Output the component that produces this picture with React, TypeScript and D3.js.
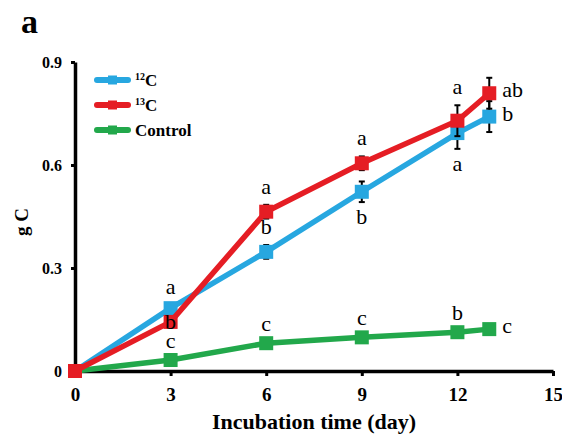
import React, { useEffect, useRef } from "react";
import * as d3 from "d3";

const days = [0, 3, 6, 9, 12, 13];
const c12 = [0, 0.183, 0.347, 0.522, 0.693, 0.741];
const c12Err = [0, 0.008, 0.02, 0.03, 0.046, 0.045];
const c13 = [0, 0.143, 0.464, 0.605, 0.729, 0.809];
const c13Err = [0, 0.008, 0.02, 0.02, 0.045, 0.045];
const control = [0, 0.032, 0.081, 0.098, 0.113, 0.122];
const controlErr = [0, 0.004, 0.004, 0.004, 0.004, 0.004];

const c12Letters = ["", "a", "b", "b", "a", "b"];
const c12Where = ["", "above", "above", "below", "below", "right"];
const c13Letters = ["", "b", "a", "a", "a", "ab"];
const c13Where = ["", "on", "above", "above", "above", "right"];
const controlLetters = ["", "c", "c", "c", "b", "c"];
const controlWhere = ["", "above", "above", "above", "above", "right"];

const xTicks = [0, 3, 6, 9, 12, 15];
const yTicks = [0, 0.3, 0.6, 0.9];

const serif = "'Liberation Serif', 'Times New Roman', serif";

export default function App() {
  const ref = useRef<SVGSVGElement>(null);

  useEffect(() => {
    const svg = d3.select(ref.current);
    svg.selectAll("*").remove();

    const x = d3.scaleLinear().domain([0, 15]).range([75, 553]);
    const y = d3.scaleLinear().domain([0, 0.9]).range([371, 62]);

    // panel letter
    svg.append("text")
      .attr("x", 21).attr("y", 33)
      .style("font-family", serif).style("font-weight", "bold").style("font-size", "34px")
      .text("a");

    // axes
    const axisX = svg.append("g").attr("transform", `translate(0,${y(0)})`)
      .call(d3.axisBottom(x).tickValues(xTicks).tickSize(5).tickSizeOuter(0).tickPadding(12));
    axisX.select(".domain").attr("stroke", "#000").attr("stroke-width", 3.5);
    axisX.selectAll(".tick line").attr("stroke-width", 3);
    axisX.selectAll("text")
      .style("font-family", serif).style("font-weight", "bold").style("font-size", "19px").attr("fill", "#000");

    const axisY = svg.append("g").attr("transform", `translate(${x(0)},0)`)
      .call(d3.axisLeft(y).tickValues(yTicks).tickFormat((d) => (d === 0 ? "0" : d3.format(".1f")(d as number))).tickSize(4).tickSizeOuter(0).tickPadding(9));
    axisY.select(".domain").attr("stroke", "#000").attr("stroke-width", 3.5);
    axisY.selectAll(".tick line").attr("stroke-width", 3);
    axisY.selectAll("text")
      .style("font-family", serif).style("font-weight", "bold").style("font-size", "16px").attr("fill", "#000");

    svg.append("text")
      .attr("x", 314).attr("y", 429).attr("text-anchor", "middle")
      .style("font-family", serif).style("font-weight", "bold").style("font-size", "22px")
      .text("Incubation time (day)");

    svg.append("text")
      .attr("transform", "translate(28,222) rotate(-90)").attr("text-anchor", "middle")
      .style("font-family", serif).style("font-weight", "bold").style("font-size", "19px")
      .text("g C");

    const series = [
      { values: control, err: controlErr, letters: controlLetters, where: controlWhere, color: "#22a84b" },
      { values: c12, err: c12Err, letters: c12Letters, where: c12Where, color: "#27a7e0" },
      { values: c13, err: c13Err, letters: c13Letters, where: c13Where, color: "#e51d24" },
    ];

    const line = d3.line<number>().x((d, i) => x(days[i])).y((d) => y(d));

    series.forEach((s) => {
      const g = svg.append("g");
      g.append("path").datum(s.values).attr("d", line)
        .attr("fill", "none").attr("stroke", s.color).attr("stroke-width", 5.5);

      s.values.forEach((v, i) => {
        if (s.err[i] > 0.006) {
          const cx = x(days[i]);
          g.append("line").attr("x1", cx).attr("x2", cx)
            .attr("y1", y(v - s.err[i])).attr("y2", y(v + s.err[i]))
            .attr("stroke", "#000").attr("stroke-width", 2);
          [v - s.err[i], v + s.err[i]].forEach((e) => {
            g.append("line").attr("x1", cx - 3).attr("x2", cx + 3)
              .attr("y1", y(e)).attr("y2", y(e))
              .attr("stroke", "#000").attr("stroke-width", 2);
          });
        }
      });

      g.selectAll("rect").data(s.values).enter().append("rect")
        .attr("x", (d, i) => x(days[i]) - 7).attr("y", (d) => y(d) - 7)
        .attr("width", 14).attr("height", 14).attr("fill", s.color);
    });

    // significance letters
    series.forEach((s) => {
      s.letters.forEach((t, i) => {
        if (!t) return;
        const cx = x(days[i]);
        const cy = y(s.values[i]);
        const errPx = y(0) - y(s.err[i]);
        let tx = cx, ty = cy, anchor = "middle";
        if (s.where[i] === "above") ty = cy - errPx - 11;
        else if (s.where[i] === "below") ty = cy + errPx + 22;
        else if (s.where[i] === "on") ty = cy + 7;
        else if (s.where[i] === "right") { tx = cx + 13; ty = cy + 4; anchor = "start"; }
        svg.append("text")
          .attr("x", tx).attr("y", ty).attr("text-anchor", anchor)
          .style("font-family", serif).style("font-size", "22px").attr("fill", "#000")
          .text(t);
      });
    });

    // legend
    const legendItems = [
      { label: "C", sup: "12", color: "#27a7e0" },
      { label: "C", sup: "13", color: "#e51d24" },
      { label: "Control", sup: "", color: "#22a84b" },
    ];
    legendItems.forEach((it, i) => {
      const ly = 80 + i * 25;
      const lg = svg.append("g");
      lg.append("line").attr("x1", 97).attr("x2", 128).attr("y1", ly).attr("y2", ly)
        .attr("stroke", it.color).attr("stroke-width", 6).attr("stroke-linecap", "round");
      lg.append("rect").attr("x", 108).attr("y", ly - 4.5).attr("width", 9).attr("height", 9).attr("fill", it.color);
      const txt = lg.append("text").attr("x", 135).attr("y", ly + 6)
        .style("font-family", serif).style("font-weight", "bold").style("font-size", "17px");
      if (it.sup) {
        txt.append("tspan").attr("dy", -6).style("font-size", "10px").text(it.sup);
        txt.append("tspan").attr("dy", 6).text(it.label);
      } else {
        txt.text(it.label);
      }
    });
  }, []);

  return (
    <div style={{ position: "absolute", left: 0, top: 0 }}>
      <svg ref={ref} width={562} height={438} style={{ display: "block", background: "#fff" }} />
    </div>
  );
}
